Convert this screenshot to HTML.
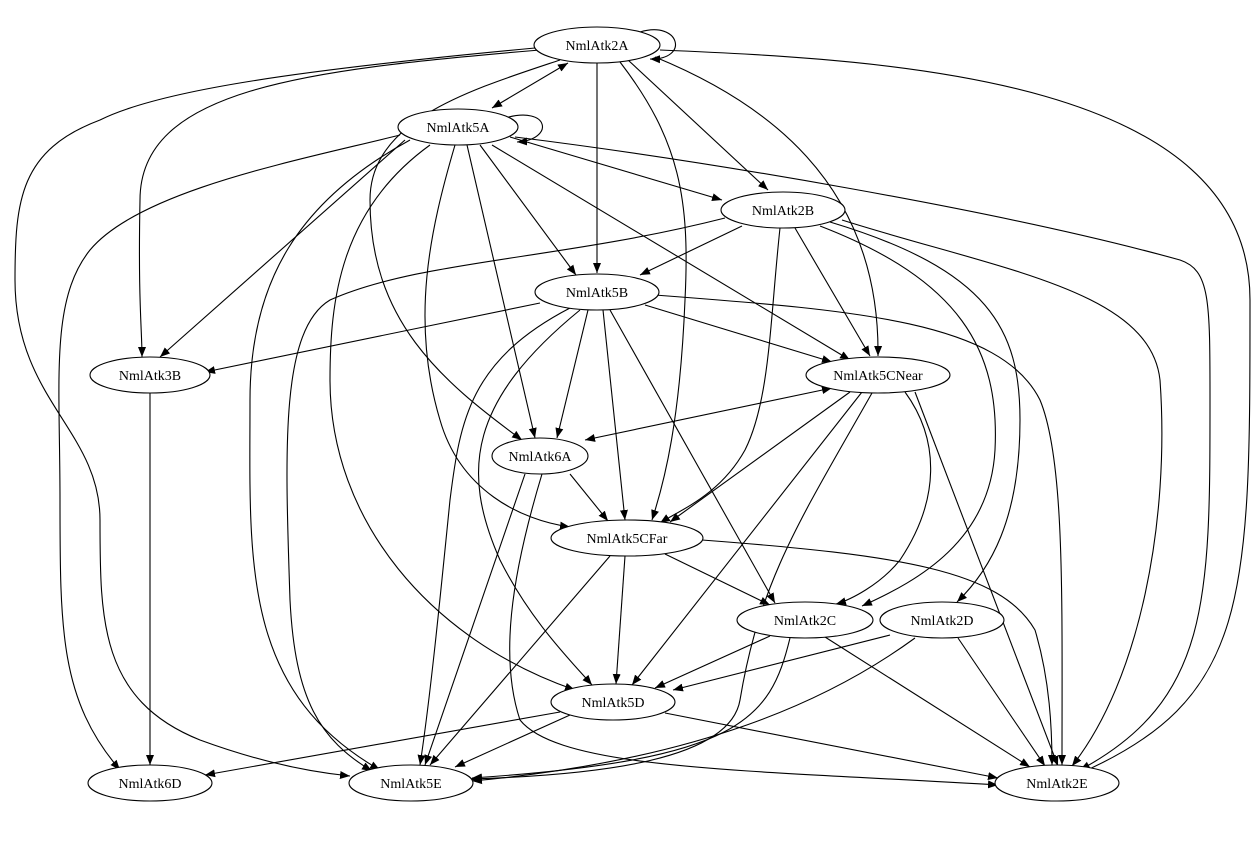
<!DOCTYPE html>
<html><head><meta charset="utf-8"><style>
html,body{margin:0;padding:0;background:#fff;}
svg{display:block;}
text{font-family:"Liberation Serif",serif;font-size:14px;fill:#000;}
</style></head><body>
<svg width="1259" height="859" viewBox="0 0 1259 859" xmlns="http://www.w3.org/2000/svg">
<defs>
<marker id="a" viewBox="0 0 10 10" refX="10" refY="5" markerWidth="10" markerHeight="10" markerUnits="userSpaceOnUse" orient="auto-start-reverse">
<path d="M0,1 L10,5 L0,9 z" fill="#000"/>
</marker>
</defs>
<g fill="none" stroke="#000" stroke-width="1.1" marker-end="url(#a)">
<!-- 2A -->
<path d="M640,32 C680,20 690,60 650,59"/>
<path d="M492,108 L568,63" marker-start="url(#a)"/>
<path d="M597,63 L597,273"/>
<path d="M628,60 L768,190"/>
<path d="M655,57 C760,100 880,180 878,356"/>
<path d="M660,50 C900,60 1250,80 1250,300 C1250,600 1250,700 1076,775"/>
<path d="M540,50 C300,70 140,90 140,200 C138,300 142,330 142,357"/>
<path d="M535,48 C300,70 160,90 100,120 C20,150 15,200 15,280 C15,400 100,430 100,520 C100,620 100,700 200,740 C260,762 310,772 350,776"/>
<path d="M560,60 C470,90 370,120 370,200 C370,320 440,380 522,440"/>
<path d="M620,62 C680,140 690,200 685,300 C680,420 665,480 652,520"/>
<!-- 5A -->
<path d="M505,118 C550,105 555,140 517,142"/>
<path d="M510,137 L722,200"/>
<path d="M480,145 L576,275"/>
<path d="M492,145 L850,360"/>
<path d="M467,145 L535,438"/>
<path d="M455,145 C430,230 410,320 440,420 C460,490 520,520 570,527"/>
<path d="M430,145 C340,210 330,300 330,380 C330,520 430,640 575,690"/>
<path d="M410,140 C300,200 250,280 250,400 C250,560 240,690 380,770"/>
<path d="M405,140 L160,357"/>
<path d="M400,135 C300,160 140,190 90,250 C50,300 60,380 60,500 C60,630 60,700 120,770"/>
<path d="M515,137 C700,160 1000,210 1180,260 C1210,270 1210,300 1210,400 C1210,600 1210,700 1080,770"/>
<!-- 2B -->
<path d="M742,226 L640,275"/>
<path d="M795,228 L870,356"/>
<path d="M780,228 C770,320 770,400 745,450 C720,495 680,510 660,523"/>
<path d="M820,226 C960,280 1000,350 995,450 C990,540 920,580 862,606"/>
<path d="M830,222 C990,270 1020,330 1020,420 C1020,520 990,570 957,602"/>
<path d="M842,220 C1000,270 1150,290 1160,380 C1170,520 1140,680 1072,766"/>
<path d="M725,218 C560,260 420,260 330,300 C280,330 285,450 290,600 C295,700 320,740 372,771"/>
<!-- 5B -->
<path d="M540,303 L205,372"/>
<path d="M645,305 L832,362"/>
<path d="M588,310 L557,438"/>
<path d="M603,310 L625,520"/>
<path d="M610,310 L775,603"/>
<path d="M580,310 C470,400 460,470 500,560 C530,620 570,660 592,685"/>
<path d="M570,308 C470,360 460,420 450,500 C440,600 430,700 420,765"/>
<path d="M655,295 C850,310 1000,320 1040,400 C1065,460 1062,600 1062,765"/>
<!-- 5CNear -->
<path d="M585,440 L832,388" marker-start="url(#a)"/>
<path d="M850,392 L670,522"/>
<path d="M862,392 L632,685"/>
<path d="M872,393 C800,520 760,580 740,700 C730,760 600,775 470,779"/>
<path d="M905,392 C940,440 940,500 900,560 C880,585 850,600 836,604"/>
<path d="M915,392 L1058,766"/>
<!-- 3B -->
<path d="M150,393 L150,765"/>
<!-- 6A -->
<path d="M570,474 L608,521"/>
<path d="M525,474 L425,765"/>
<path d="M542,474 C510,580 500,660 520,720 C560,770 750,770 998,785"/>
<!-- 5CFar -->
<path d="M665,554 L770,605"/>
<path d="M625,556 L616,684"/>
<path d="M610,556 L430,765"/>
<path d="M702,540 C900,555 1000,570 1035,630 C1050,680 1052,730 1052,765"/>
<!-- 2C -->
<path d="M770,636 L655,688"/>
<path d="M790,638 C770,720 740,760 472,778"/>
<path d="M825,637 L1030,767"/>
<!-- 2D -->
<path d="M890,635 L673,690"/>
<path d="M915,638 C830,700 700,760 472,781"/>
<path d="M958,638 L1045,766"/>
<!-- 5D -->
<path d="M560,712 L205,775"/>
<path d="M570,715 L455,767"/>
<path d="M665,713 L998,778"/>
</g>
<g fill="#fff" stroke="#000" stroke-width="1.1">
<ellipse cx="597" cy="45" rx="63" ry="18"/>
<ellipse cx="458" cy="127" rx="60" ry="18"/>
<ellipse cx="783" cy="210" rx="62" ry="18"/>
<ellipse cx="597" cy="292" rx="62" ry="18"/>
<ellipse cx="150" cy="375" rx="60" ry="18"/>
<ellipse cx="878" cy="375" rx="72" ry="18"/>
<ellipse cx="540" cy="456" rx="48" ry="18"/>
<ellipse cx="627" cy="538" rx="76" ry="18"/>
<ellipse cx="805" cy="620" rx="68" ry="18"/>
<ellipse cx="942" cy="620" rx="62" ry="18"/>
<ellipse cx="613" cy="702" rx="62" ry="18"/>
<ellipse cx="150" cy="783" rx="62" ry="18"/>
<ellipse cx="411" cy="783" rx="62" ry="18"/>
<ellipse cx="1057" cy="783" rx="62" ry="18"/>
</g>
<g text-anchor="middle">
<text x="597" y="50">NmlAtk2A</text>
<text x="458" y="132">NmlAtk5A</text>
<text x="783" y="215">NmlAtk2B</text>
<text x="597" y="297">NmlAtk5B</text>
<text x="150" y="380">NmlAtk3B</text>
<text x="878" y="380">NmlAtk5CNear</text>
<text x="540" y="461">NmlAtk6A</text>
<text x="627" y="543">NmlAtk5CFar</text>
<text x="805" y="625">NmlAtk2C</text>
<text x="942" y="625">NmlAtk2D</text>
<text x="613" y="707">NmlAtk5D</text>
<text x="150" y="788">NmlAtk6D</text>
<text x="411" y="788">NmlAtk5E</text>
<text x="1057" y="788">NmlAtk2E</text>
</g>
</svg>
</body></html>
